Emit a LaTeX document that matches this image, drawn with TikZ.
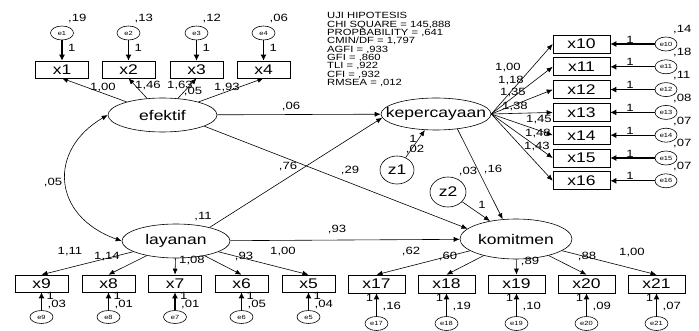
\documentclass[tikz,border=0pt]{standalone}
\usepackage{fontspec}
\setmainfont{Liberation Sans}[FakeStretch=1.25]
\usetikzlibrary{shapes.geometric,arrows.meta}
\begin{document}
\begin{tikzpicture}[x=1pt,y=-1pt,
  every node/.style={inner sep=0pt},
  obs/.style={draw,rectangle,line width=0.6pt,minimum width=53pt,minimum height=17pt,font=\fontsize{14}{16}\selectfont},
  obsw/.style={obs,minimum width=57pt,minimum height=18pt},
  lat/.style={draw,ellipse,line width=0.6pt,font=\fontsize{14}{16}\selectfont},
  err/.style={draw,ellipse,line width=0.6pt,minimum width=23pt,minimum height=14pt,font=\fontsize{6}{7}\selectfont},
  lbl/.style={font=\fontsize{10.5}{12}\selectfont},
  arr/.style={-{Latex[length=6pt,width=5pt]},line width=0.6pt},
  earr/.style={-{Latex[length=6pt,width=6pt]},line width=1.1pt},
  cov/.style={{Latex[length=6pt,width=5pt]}-{Latex[length=6pt,width=5pt]},line width=0.6pt},
]
\useasboundingbox (0,0) rectangle (699,331);

% latent variables
\node[lat,minimum width=109pt,minimum height=34pt] (efektif) at (162.5,115) {\makebox[0pt]{efektif}};
\node[lat,minimum width=110pt,minimum height=32pt] (kep) at (436,114) {\makebox[0pt]{kepercayaan}};
\node[lat,minimum width=108pt,minimum height=34pt] (layanan) at (176,241) {\makebox[0pt]{layanan}};
\node[lat,minimum width=112pt,minimum height=40pt] (komitmen) at (516,239) {\makebox[0pt]{komitmen}};
\node[lat,minimum width=34pt,minimum height=28pt] (z1) at (397,170) {z1};
\node[lat,minimum width=36pt,minimum height=30pt] (z2) at (448,192) {z2};

% top group
\foreach \i/\x/\v in {1/62/{,19},2/128.5/{,13},3/196.5/{,12},4/263.5/{,06}} {
  \node[obs] (x\i) at (\x,69.5) {x\i};
  \node[err] (e\i) at (\x,33) {e\i};
  \draw[earr] (e\i) -- (x\i);
  \draw[arr] (efektif) -- (x\i.south);
  \node[lbl,anchor=west] (ev\i) at ({\x+6},19) {\v};
  \node[lbl,anchor=west] (eo\i) at ({\x+6},48) {1};
}
\node[lbl] (l1) at (103,88) {1,00};
\node[lbl] (l2) at (148,86) {1,46};
\node[lbl] (l3) at (180,86) {1,63};
\node[lbl] (vef) at (193,92) {,05};
\node[lbl] (l4) at (227,88) {1,93};

% right group
\foreach \i/\y/\v in {10/44/{,14},11/66.8/{,18},12/89.6/{,11},13/112.4/{,08},14/135.2/{,07},15/158/{,07},16/180.8/{,07}} {
  \node[obsw] (x\i) at (581.5,\y) {x\i};
  \node[err,minimum width=22pt] (e\i) at (666,\y) {e\i};
  \draw[earr] (e\i) -- (x\i);
  \draw[arr] (kep.east) -- (x\i.west);
  \node[lbl] (eo\i) at (630,{\y-4.5}) {1};
  \node[lbl,anchor=west] (ev\i) at (673,{\y-14}) {\v};
}
\node[lbl] (l10) at (508,68) {1,00};
\node[lbl] (l11) at (511,81) {1,18};
\node[lbl] (l12) at (513,93) {1,35};
\node[lbl] (l13) at (515,107) {1,38};
\node[lbl] (l14) at (539,120) {1,45};
\node[lbl] (l15) at (538,134) {1,48};
\node[lbl] (l16) at (537,147) {1,43};

% bottom left group
\foreach \i/\x/\v in {9/41.5/{,03},8/108.5/{,01},7/175/{,01},6/241.5/{,05},5/308.5/{,04}} {
  \node[obs] (x\i) at (\x,283.5) {x\i};
  \node[err,minimum height=13pt] (e\i) at (\x,317) {e\i};
  \draw[earr] (e\i) -- (x\i);
  \draw[arr] (layanan) -- (x\i.north);
  \node[lbl,anchor=west] (eo\i) at ({\x+5},295.5) {1};
  \node[lbl,anchor=west] (ev\i) at ({\x+6},305) {\v};
}
\node[lbl] (l9) at (70,252) {1,11};
\node[lbl] (l8) at (107,257) {1,14};
\node[lbl] (l7) at (192,261) {1,08};
\node[lbl] (l6) at (244,257) {,93};
\node[lbl] (l5) at (283,252) {1,00};

% bottom right group
\foreach \i/\x/\v in {17/376.5/{,16},18/446.5/{,19},19/516.5/{,10},20/586.5/{,09},21/656.5/{,07}} {
  \node[obsw] (x\i) at (\x,284) {x\i};
  \node[err] (e\i) at (\x,323.5) {e\i};
  \draw[earr] (e\i) -- (x\i);
  \draw[arr] (komitmen) -- (x\i.north);
  \node[lbl] (eo\i) at ({\x-7},298) {1};
  \node[lbl,anchor=west] (ev\i) at ({\x+6},307) {\v};
}
\node[lbl] (l17) at (411,252) {,62};
\node[lbl] (l18) at (448,257) {,60};
\node[lbl] (l19) at (530,262) {,89};
\node[lbl] (l20) at (587,257) {,88};
\node[lbl] (l21) at (632,253) {1,00};

% structural paths
\draw[arr] (efektif) -- (kep);
\draw[arr] (efektif.345) -- (komitmen.168);
\draw[arr] (layanan.22) -- (kep.184);
\draw[arr] (layanan) -- (komitmen);
\draw[arr] (z1) -- (kep);
\draw[arr] (z2) -- (komitmen);
\draw[arr] (kep.325) -- (komitmen.124);
\draw[cov] (efektif.west) .. controls +(-60,35) and +(-70,-25) .. (layanan.west);

\node[lbl] (p06) at (291,107) {,06};
\node[lbl] (p76) at (288,167) {,76};
\node[lbl] (p29) at (350,171) {,29};
\node[lbl] (v11) at (203,217) {,11};
\node[lbl] (c05) at (53,183) {,05};
\node[lbl] (p93) at (337,230) {,93};
\node[lbl] (z1o) at (413,139) {1};
\node[lbl] (z1v) at (415,150) {,02};
\node[lbl] (z2v) at (468,172) {,03};
\node[lbl] (p16) at (493,170) {,16};
\node[lbl] (z2o) at (482,205) {1};

% fit statistics
\node[anchor=north west,align=left,font={\fontsize{9}{8.3}\selectfont\lineskiplimit=-5pt}] (stats) at (327,12.5)
  {UJI HIPOTESIS\\CHI SQUARE = 145,888\\PROPBABILITY = ,641\\CMIN/DF = 1,797\\AGFI = ,933\\GFI = ,860\\TLI = ,922\\CFI = ,932\\RMSEA = ,012};
\end{tikzpicture}
\end{document}
